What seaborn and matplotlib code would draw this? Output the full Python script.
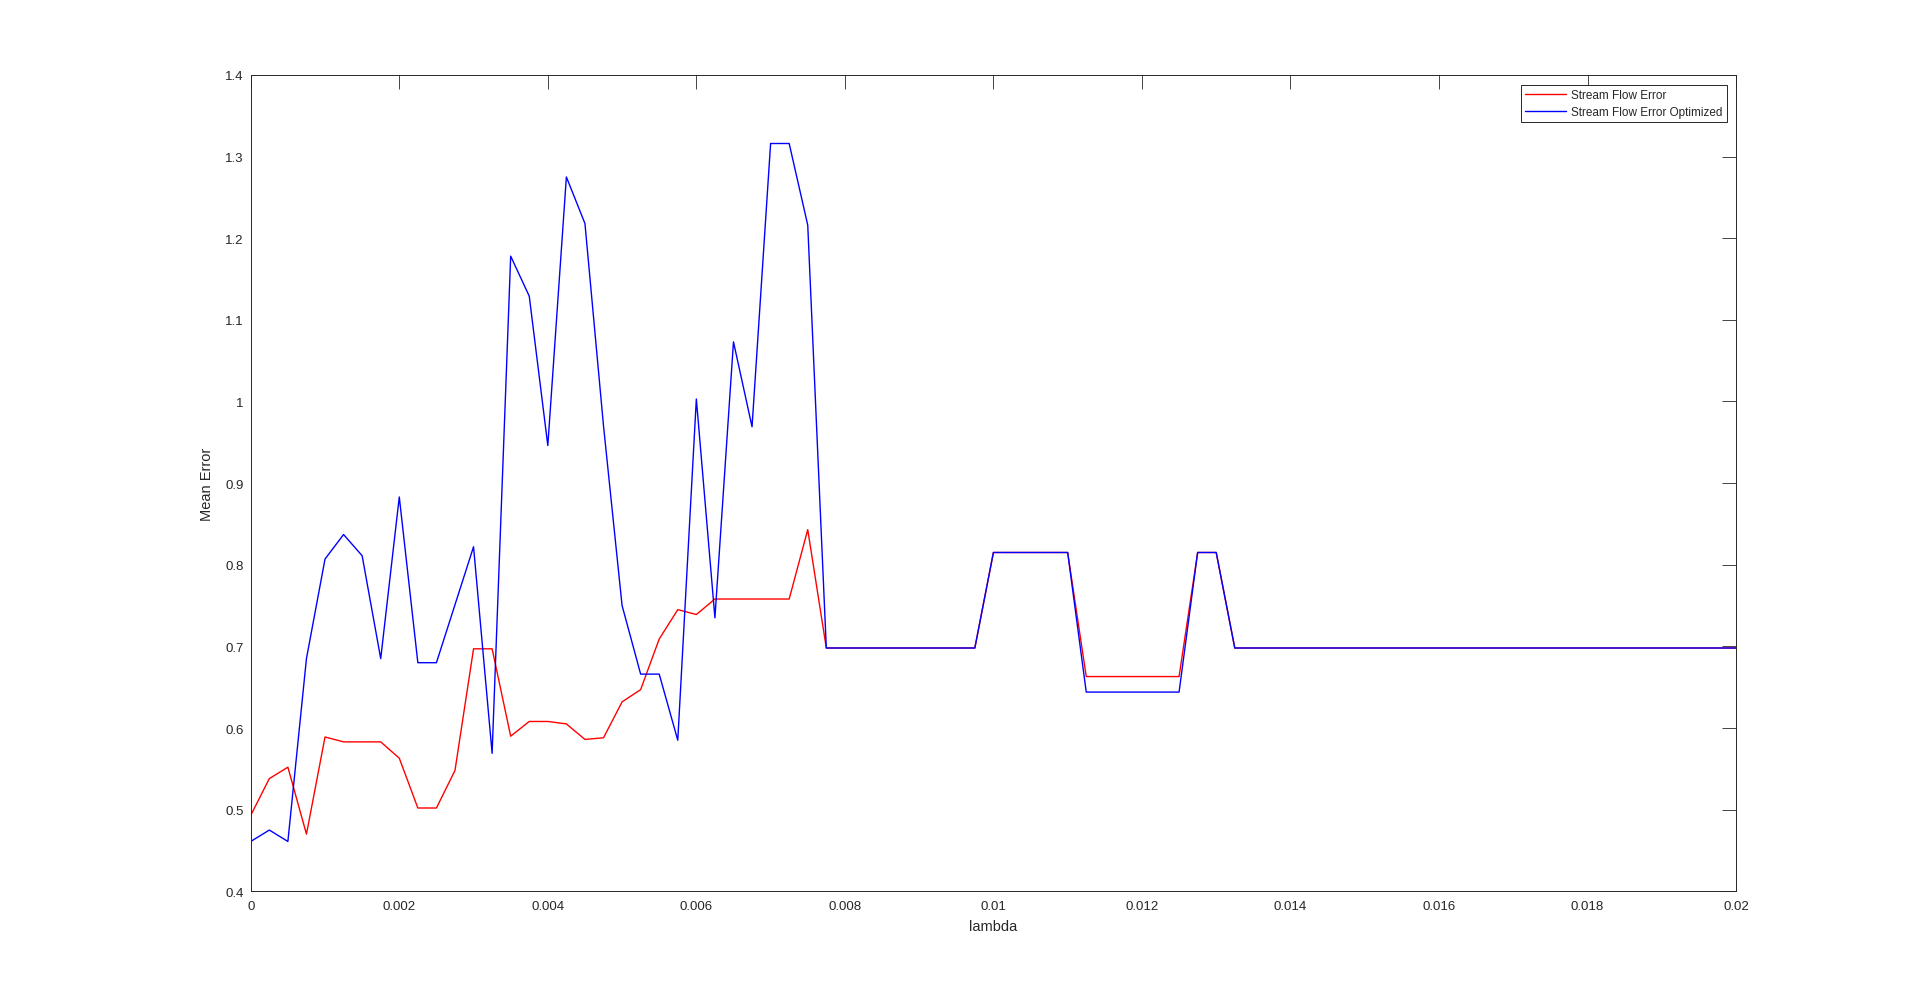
import numpy as np
import pandas as pd
import matplotlib
matplotlib.use("Agg")
import matplotlib.pyplot as plt
from matplotlib.ticker import FuncFormatter, MultipleLocator
import seaborn as sns

# lambda grid and the two error curves
lam = np.round(np.arange(81) * 0.00025, 5)

stream_err = [
    0.493, 0.538, 0.552, 0.470, 0.589, 0.583, 0.583, 0.583, 0.563, 0.502,
    0.502, 0.548, 0.697, 0.697, 0.590, 0.608, 0.608, 0.605, 0.586, 0.588,
    0.632, 0.647, 0.709, 0.745, 0.739, 0.758, 0.758, 0.758, 0.758, 0.758,
    0.843, 0.698, 0.698, 0.698, 0.698, 0.698, 0.698, 0.698, 0.698, 0.698,
    0.815, 0.815, 0.815, 0.815, 0.815, 0.663, 0.663, 0.663, 0.663, 0.663,
    0.663, 0.815, 0.815, 0.698, 0.698, 0.698, 0.698, 0.698, 0.698, 0.698,
    0.698, 0.698, 0.698, 0.698, 0.698, 0.698, 0.698, 0.698, 0.698, 0.698,
    0.698, 0.698, 0.698, 0.698, 0.698, 0.698, 0.698, 0.698, 0.698, 0.698,
    0.698,
]

stream_err_opt = [
    0.461, 0.475, 0.461, 0.685, 0.807, 0.837, 0.811, 0.685, 0.883, 0.680,
    0.680, 0.751, 0.822, 0.569, 1.178, 1.129, 0.946, 1.275, 1.218, 0.970,
    0.750, 0.666, 0.666, 0.585, 1.003, 0.735, 1.073, 0.969, 1.316, 1.316,
    1.216, 0.698, 0.698, 0.698, 0.698, 0.698, 0.698, 0.698, 0.698, 0.698,
    0.815, 0.815, 0.815, 0.815, 0.815, 0.644, 0.644, 0.644, 0.644, 0.644,
    0.644, 0.815, 0.815, 0.698, 0.698, 0.698, 0.698, 0.698, 0.698, 0.698,
    0.698, 0.698, 0.698, 0.698, 0.698, 0.698, 0.698, 0.698, 0.698, 0.698,
    0.698, 0.698, 0.698, 0.698, 0.698, 0.698, 0.698, 0.698, 0.698, 0.698,
    0.698,
]

series_names = ["Stream Flow Error", "Stream Flow Error Optimized"]

df = pd.concat([
    pd.DataFrame({"lambda": lam, "Mean Error": stream_err, "series": series_names[0]}),
    pd.DataFrame({"lambda": lam, "Mean Error": stream_err_opt, "series": series_names[1]}),
])

sns.set_style("white")
plt.rcParams["font.family"] = ["Liberation Sans", "DejaVu Sans"]

fig = plt.figure(figsize=(19.2, 10.03), dpi=100)
ax = fig.add_axes([0.1306, 0.1104, 0.9042 - 0.1306, 0.9243 - 0.1104])

sns.lineplot(data=df, x="lambda", y="Mean Error", hue="series",
             palette={series_names[0]: "#ff0000", series_names[1]: "#0000ff"},
             linewidth=1.0, ax=ax, estimator=None, sort=False)

ax.set_xlim(0, 0.02)
ax.set_ylim(0.4, 1.4)
ax.xaxis.set_major_locator(MultipleLocator(0.002))
ax.yaxis.set_major_locator(MultipleLocator(0.1))
fmt = FuncFormatter(lambda v, p: "%g" % round(v, 6))
ax.xaxis.set_major_formatter(fmt)
ax.yaxis.set_major_formatter(fmt)

dark = "#262626"
for s in ax.spines.values():
    s.set_visible(True)
    s.set_color(dark)
    s.set_linewidth(0.7)
ax.tick_params(axis="both", which="major", direction="in", length=10, width=0.6,
               color=dark, labelcolor=dark, labelsize=9.5,
               top=True, right=True)
ax.tick_params(axis="x", pad=6)
ax.tick_params(axis="y", pad=5)

ax.set_xlabel("lambda", fontsize=10.5, color=dark, labelpad=5)
ax.set_ylabel("Mean Error", fontsize=10.5, color=dark, labelpad=8)

leg = ax.legend(loc="upper right", bbox_to_anchor=(0.9937, 0.9876), borderaxespad=0,
                fontsize=8.5, frameon=True, fancybox=False, framealpha=1,
                handlelength=3.5, handletextpad=0.4, labelspacing=0.4, borderpad=0.35)
leg.get_frame().set_edgecolor(dark)
leg.get_frame().set_linewidth(0.7)
for line in leg.get_lines():
    line.set_linewidth(1.0)

fig.savefig("out.png", dpi=100, facecolor="white")
